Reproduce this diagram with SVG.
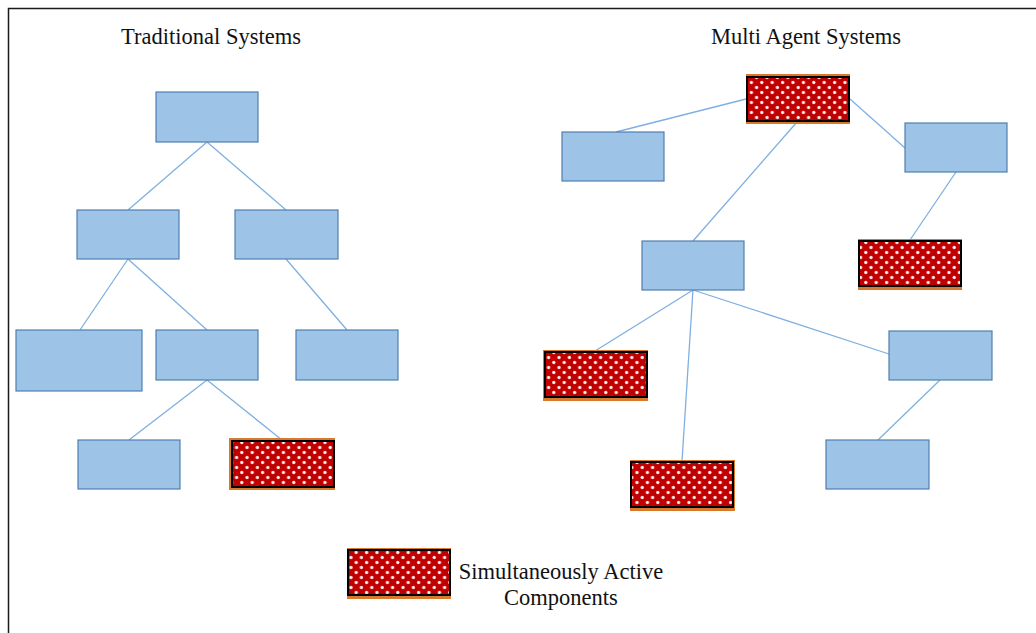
<svg xmlns="http://www.w3.org/2000/svg" width="1036" height="633" viewBox="0 0 1036 633">
  <defs>
    <radialGradient id="dotGrad">
      <stop offset="0" stop-color="#ffffff"/>
      <stop offset="0.5" stop-color="#ffe6e6"/>
      <stop offset="1" stop-color="#c00000"/>
    </radialGradient>
    <pattern id="dots" x="0" y="0" width="10.4" height="10" patternUnits="userSpaceOnUse">
      <rect width="10.4" height="10" fill="#c00000"/>
      <circle cx="2.6" cy="2.5" r="2.2" fill="url(#dotGrad)"/>
      <circle cx="7.8" cy="7.5" r="2.2" fill="url(#dotGrad)"/>
    </pattern>
    <style>
      .box { fill: #9dc3e6; stroke: #4f7fb0; stroke-width: 1.2; }
      .under { fill: #d9792e; }
      .active { fill: url(#dots); stroke: #000000; stroke-width: 2; }
      .link { stroke: #7fb0e0; stroke-width: 1.3; fill: none; }
      .title { font-family: "Liberation Serif", "Times New Roman", serif; font-size: 22.5px; fill: #111111; text-anchor: middle; }
      .frame { stroke: #1a1a1a; stroke-width: 1.5; fill: none; }
    </style>
  </defs>

  <rect width="1036" height="633" fill="#ffffff"/>
  <!-- open frame: top and left edges only -->
  <path class="frame" d="M8.5,633 V8.5 H1036"/>

  <text class="title" x="211" y="44">Traditional Systems</text>
  <text class="title" x="806" y="44">Multi Agent Systems</text>

  <g id="connectors">
    <!-- traditional hierarchy -->
    <line class="link" x1="207" y1="142" x2="128" y2="210"/>
    <line class="link" x1="207" y1="142" x2="286" y2="210"/>
    <line class="link" x1="128" y1="259" x2="80" y2="330"/>
    <line class="link" x1="128" y1="259" x2="207" y2="330"/>
    <line class="link" x1="286" y1="259" x2="347" y2="330"/>
    <line class="link" x1="207" y1="380" x2="129" y2="440"/>
    <line class="link" x1="207" y1="380" x2="282" y2="440"/>
    <!-- agent network -->
    <line class="link" x1="746" y1="99" x2="616" y2="132"/>
    <line class="link" x1="797" y1="122" x2="693" y2="241"/>
    <line class="link" x1="850" y1="99" x2="905" y2="148"/>
    <line class="link" x1="956" y1="172" x2="910" y2="240"/>
    <line class="link" x1="693" y1="290" x2="595" y2="351"/>
    <line class="link" x1="693" y1="290" x2="682" y2="461"/>
    <line class="link" x1="693" y1="290" x2="889" y2="354"/>
    <line class="link" x1="940" y1="380" x2="878" y2="440"/>
  </g>

  <!-- traditional systems nodes -->
  <g id="t-root"><rect class="box" x="156" y="92" width="102" height="50"/></g>
  <g id="t-l2a"><rect class="box" x="77" y="210" width="102" height="49"/></g>
  <g id="t-l2b"><rect class="box" x="235" y="210" width="103" height="49"/></g>
  <g id="t-l3a"><rect class="box" x="16" y="330" width="126" height="61"/></g>
  <g id="t-l3b"><rect class="box" x="156" y="330" width="102" height="50"/></g>
  <g id="t-l3c"><rect class="box" x="296" y="330" width="102" height="50"/></g>
  <g id="t-l4a"><rect class="box" x="78" y="440" width="102" height="49"/></g>
  <g id="t-l4b">
    <rect class="under" x="229" y="438" width="106" height="52"/>
    <rect class="active" x="232" y="441" width="102" height="46"/>
  </g>

  <!-- multi agent system nodes -->
  <g id="m-top">
    <rect class="under" x="746" y="74" width="104" height="50"/>
    <rect class="active" x="747" y="77" width="102" height="44"/>
  </g>
  <g id="m-a"><rect class="box" x="562" y="132" width="102" height="49"/></g>
  <g id="m-b"><rect class="box" x="905" y="123" width="102" height="49"/></g>
  <g id="m-hub"><rect class="box" x="642" y="241" width="102" height="49"/></g>
  <g id="m-d">
    <rect class="under" x="858" y="239" width="104" height="51"/>
    <rect class="active" x="859" y="241" width="102" height="45"/>
  </g>
  <g id="m-e">
    <rect class="under" x="543" y="350" width="105" height="51"/>
    <rect class="active" x="545" y="352" width="102" height="45"/>
  </g>
  <g id="m-f">
    <rect class="under" x="630" y="460" width="105" height="51"/>
    <rect class="active" x="631" y="462" width="102" height="45"/>
  </g>
  <g id="m-g"><rect class="box" x="889" y="331" width="103" height="49"/></g>
  <g id="m-h"><rect class="box" x="826" y="440" width="103" height="49"/></g>

  <!-- legend -->
  <g id="legend">
    <rect class="under" x="347" y="548" width="104" height="51"/>
    <rect class="active" x="348" y="550" width="102" height="45"/>
    <text class="title" x="561" y="579">Simultaneously Active</text>
    <text class="title" x="561" y="605">Components</text>
  </g>
</svg>
